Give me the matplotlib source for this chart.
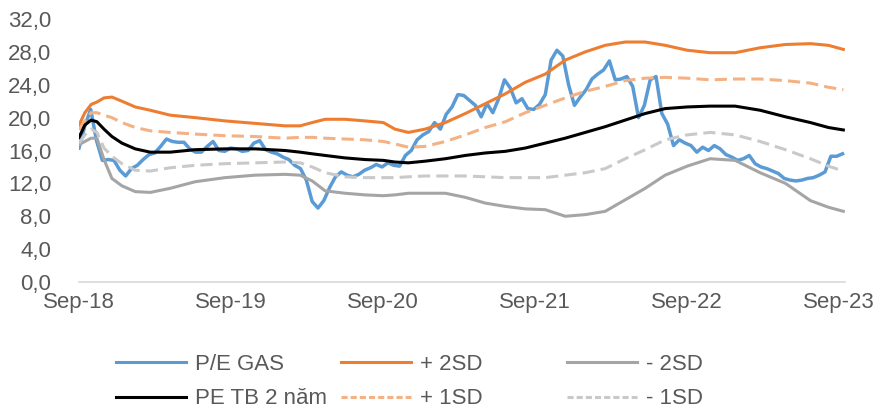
import matplotlib
matplotlib.use("Agg")
import matplotlib.pyplot as plt
import matplotlib.dates as mdates
from matplotlib.lines import Line2D
from matplotlib.ticker import FuncFormatter, MultipleLocator
import pandas as pd

plt.rcParams['font.family'] = ['Liberation Sans', 'DejaVu Sans']

# ---------------------------
# Data
# ---------------------------
# P/E GAS, one reading every 14 days from the start date
pe_start = '2018-09-01'
pe_gas = [16.3, 19.0, 21.0, 17.2, 14.8, 14.9, 14.8, 13.6, 12.9, 13.8,
          14.2, 14.9, 15.5, 15.7, 16.5, 17.4, 17.1, 17.0, 17.0, 16.2,
          15.8, 15.8, 16.5, 17.1, 16.0, 15.9, 16.3, 16.2, 15.9, 16.0,
          16.9, 17.2, 16.1, 15.8, 15.6, 15.2, 14.9, 14.2, 13.8, 12.4,
          9.8, 9.0, 9.9, 11.5, 12.8, 13.4, 13.0, 12.8, 13.1, 13.6,
          13.9, 14.3, 14.0, 14.5, 14.2, 14.1, 15.4, 16.0, 17.3, 17.9,
          18.3, 19.4, 18.6, 20.4, 21.3, 22.8, 22.7, 22.1, 21.5, 20.1,
          21.7, 20.6, 22.3, 24.6, 23.6, 21.8, 22.3, 21.1, 21.0, 21.6,
          22.8, 27.0, 28.2, 27.5, 24.0, 21.5, 22.5, 23.4, 24.7, 25.3,
          25.8, 26.9, 24.6, 24.7, 25.0, 23.8, 20.0, 21.5, 24.6, 25.0,
          20.5, 19.2, 16.6, 17.3, 16.9, 16.6, 15.8, 16.4, 16.0, 16.6,
          16.2, 15.5, 15.2, 14.8, 15.0, 15.4, 14.4, 14.0, 13.8, 13.5,
          13.2, 12.6, 12.4, 12.3, 12.4, 12.6, 12.7, 13.0, 13.4, 15.3,
          15.3, 15.6]

# 2-year average and SD bands
band_dates = ['2018-09-01', '2018-09-15', '2018-09-30', '2018-10-14', '2018-10-31',
              '2018-11-19', '2018-12-13', '2019-01-14', '2019-02-19', '2019-04-08',
              '2019-06-07', '2019-08-18', '2019-10-29', '2020-01-09', '2020-02-14',
              '2020-03-14', '2020-04-14', '2020-06-01', '2020-07-19', '2020-09-01',
              '2020-09-29', '2020-10-31', '2020-12-10', '2021-01-28', '2021-03-17',
              '2021-05-04', '2021-06-21', '2021-08-08', '2021-09-25', '2021-11-12',
              '2021-12-30', '2022-02-16', '2022-04-05', '2022-05-23', '2022-07-10',
              '2022-09-01', '2022-10-26', '2022-12-25', '2023-02-23', '2023-04-25',
              '2023-06-24', '2023-08-06', '2023-09-11']
pe_avg = [17.6, 19.1, 19.7, 19.5, 18.6, 17.7, 16.9, 16.2, 15.8, 15.8,
          16.1, 16.2, 16.2, 16.0, 15.8, 15.6, 15.4, 15.1, 14.9, 14.8,
          14.6, 14.5, 14.7, 15.0, 15.4, 15.7, 15.9, 16.3, 16.9, 17.5,
          18.2, 18.9, 19.7, 20.5, 21.1, 21.3, 21.4, 21.4, 20.9, 20.1,
          19.4, 18.8, 18.5]
plus_2sd = [19.1, 20.6, 21.6, 21.9, 22.4, 22.5, 22.0, 21.3, 20.9, 20.3,
            20.0, 19.6, 19.3, 19.0, 19.0, 19.4, 19.8, 19.8, 19.6, 19.4,
            18.6, 18.2, 18.6, 19.4, 20.5, 21.7, 22.9, 24.3, 25.3, 27.0,
            28.0, 28.8, 29.2, 29.2, 28.8, 28.2, 27.9, 27.9, 28.5, 28.9,
            29.0, 28.8, 28.3]
plus_1sd = [18.5, 19.6, 20.6, 20.6, 20.3, 20.0, 19.4, 18.8, 18.4, 18.2,
            18.0, 17.8, 17.7, 17.5, 17.6, 17.6, 17.5, 17.4, 17.3, 17.1,
            16.8, 16.4, 16.5, 17.1, 17.9, 18.8, 19.5, 20.6, 21.5, 22.4,
            23.2, 23.8, 24.5, 24.8, 24.9, 24.8, 24.6, 24.7, 24.7, 24.5,
            24.2, 23.7, 23.4]
minus_1sd = [16.9, 17.9, 18.6, 18.2, 16.3, 15.3, 14.4, 13.6, 13.5, 13.9,
             14.2, 14.4, 14.5, 14.6, 14.5, 14.0, 13.3, 12.8, 12.7, 12.7,
             12.7, 12.8, 12.9, 12.9, 12.9, 12.8, 12.7, 12.7, 12.7, 13.0,
             13.3, 13.8, 15.0, 16.1, 17.3, 17.9, 18.2, 17.9, 17.1, 16.1,
             15.0, 14.1, 13.5]
minus_2sd = [16.7, 17.1, 17.5, 17.5, 14.9, 12.6, 11.7, 11.0, 10.9, 11.4,
             12.2, 12.7, 13.0, 13.1, 13.0, 12.3, 11.1, 10.8, 10.6, 10.5,
             10.6, 10.8, 10.8, 10.8, 10.3, 9.6, 9.2, 8.9, 8.8, 8.0,
             8.2, 8.6, 10.0, 11.4, 13.0, 14.1, 15.0, 14.8, 13.3, 12.0,
             9.9, 9.1, 8.6]

# ---------------------------
# Figure
# ---------------------------
pe_dates = pd.date_range(pe_start, periods=len(pe_gas), freq='14D')
bd = pd.to_datetime(band_dates)

fig = plt.figure(figsize=(8.84, 4.16), dpi=100)
ax = fig.add_axes([0.0894, 0.3221, 0.8665, 0.6322])

lw = 2.2
ax.plot(pe_dates, pe_gas, color='#5B9BD5', lw=2.5, zorder=2)
ax.plot(bd, plus_2sd, color='#ED7D31', lw=lw, zorder=3)
ax.plot(bd, minus_2sd, color='#A5A5A5', lw=lw, zorder=3)
ax.plot(bd, pe_avg, color='black', lw=lw, zorder=4)
ax.plot(bd, plus_1sd, color='#F4B183', lw=lw, dashes=(4, 2), zorder=3)
ax.plot(bd, minus_1sd, color='#C9C9C9', lw=lw, dashes=(4, 2), zorder=3)

ax.set_ylim(0, 32)
ax.set_xlim(pd.Timestamp('2018-09-01'), pd.Timestamp('2023-09-15'))
ax.yaxis.set_major_locator(MultipleLocator(4))
ax.yaxis.set_major_formatter(FuncFormatter(lambda v, p: f"{v:.1f}".replace('.', ',')))
ax.xaxis.set_major_locator(mdates.MonthLocator(bymonth=9, bymonthday=1))
ax.xaxis.set_major_formatter(mdates.DateFormatter('%b-%y'))

for s in ['top', 'right', 'left']:
    ax.spines[s].set_visible(False)
ax.spines['bottom'].set_color('#D9D9D9')
ax.spines['bottom'].set_linewidth(1.2)
ax.tick_params(axis='both', length=0, labelsize=16, colors='#595959')
ax.tick_params(axis='y', pad=20)
ax.tick_params(axis='x', pad=7)

# ---------------------------
# Legend (3 columns, Excel style)
# ---------------------------
def h(color, dashed=False):
    if dashed:
        return Line2D([], [], color=color, lw=lw, dashes=(2, 1))
    return Line2D([], [], color=color, lw=lw)

columns = [
    ([h('#5B9BD5'), h('black')], ['P/E GAS', 'PE TB 2 năm'], 116),
    ([h('#ED7D31'), h('#F4B183', True)], ['+ 2SD', '+ 1SD'], 341),
    ([h('#A5A5A5'), h('#C9C9C9', True)], ['- 2SD', '- 1SD'], 567),
]
for handles, labels, xpx in columns:
    leg = fig.legend(handles, labels, loc='upper left',
                     bbox_to_anchor=(xpx / 884, 1 - 354 / 416),
                     frameon=False, fontsize=16, handlelength=3.15,
                     handletextpad=0.4, labelspacing=0.6,
                     borderpad=0, borderaxespad=0)
    for t in leg.get_texts():
        t.set_color('#595959')

fig.savefig('out.png', dpi=100)
